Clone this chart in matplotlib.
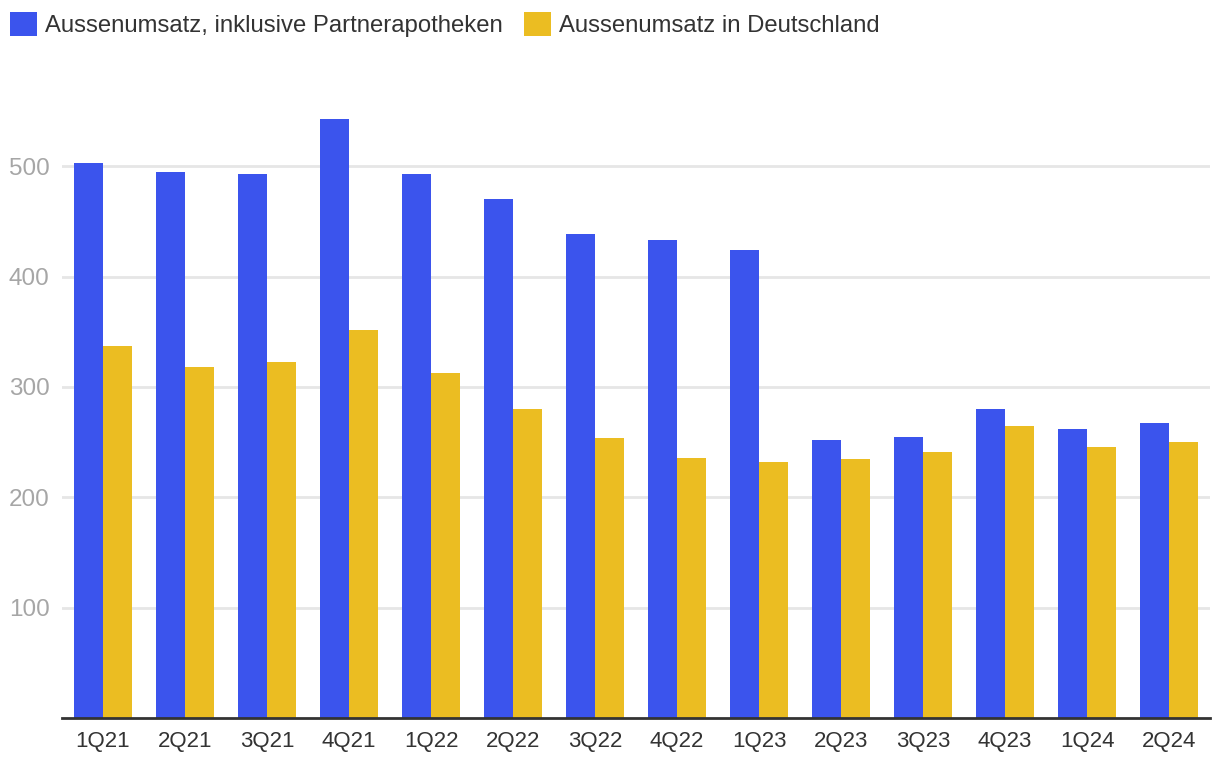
import matplotlib
matplotlib.use("Agg")
import matplotlib.pyplot as plt
import numpy as np

quarters = ["1Q21", "2Q21", "3Q21", "4Q21", "1Q22", "2Q22", "3Q22",
            "4Q22", "1Q23", "2Q23", "3Q23", "4Q23", "1Q24", "2Q24"]
inkl_partner = [503, 495, 493, 543, 493, 470, 439, 433, 424, 252, 255, 280, 262, 267]
deutschland = [337, 318, 323, 352, 313, 280, 254, 236, 232, 235, 241, 265, 246, 250]
series_names = ["Aussenumsatz, inklusive Partnerapotheken", "Aussenumsatz in Deutschland"]
yticks = [100, 200, 300, 400, 500]

plt.rcParams['font.family'] = ['Liberation Sans', 'DejaVu Sans']

W, H = 1220, 770
fig = plt.figure(figsize=(W / 100, H / 100), dpi=100)
left, right, bottom, top = 62, 1210, 718, 100
ax = fig.add_axes([left / W, (H - bottom) / H, (right - left) / W, (bottom - top) / H])

blue = "#3B54ED"
yellow = "#EBBD22"
x = np.arange(len(quarters))
bw = 0.35
b1 = ax.bar(x - bw / 2, inkl_partner, width=bw, color=blue, label=series_names[0], zorder=3)
b2 = ax.bar(x + bw / 2, deutschland, width=bw, color=yellow, label=series_names[1], zorder=3)

ax.set_xlim(-0.5, len(quarters) - 0.5)
ax.set_ylim(0, 560)
ax.set_yticks(yticks)
ax.set_xticks(x)
ax.set_xticklabels(quarters)

for s in ["top", "right", "left"]:
    ax.spines[s].set_visible(False)
ax.spines["bottom"].set_color("#333333")
ax.spines["bottom"].set_linewidth(2)
ax.spines["bottom"].set_zorder(4)

ax.grid(axis="y", color="#e6e6e6", linewidth=2, zorder=0)
ax.set_axisbelow(True)
ax.tick_params(axis="y", length=0, pad=9, labelsize=17.5, labelcolor="#a6a6a6")
ax.tick_params(axis="x", length=0, pad=9, labelsize=16, labelcolor="#333333")

fig.legend(handles=[b1, b2], labels=series_names, loc="upper left",
           bbox_to_anchor=(10 / W, 1 - 12 / H), ncol=2, frameon=False,
           fontsize=17.2, labelcolor="#333333", handlelength=1.13, handleheight=1.2,
           handletextpad=0.33, columnspacing=0.88, borderpad=0, borderaxespad=0)

fig.savefig("out.png", dpi=100)
